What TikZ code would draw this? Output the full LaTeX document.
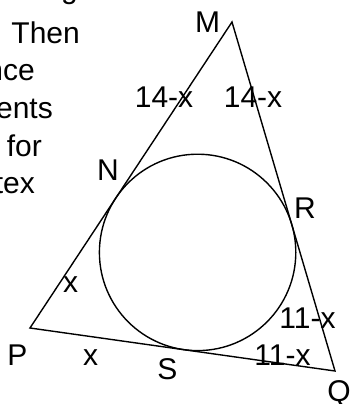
\documentclass[tikz,border=0pt]{standalone}
\usepackage{fontspec}
\setmainfont{Liberation Sans}
\begin{document}
\begin{tikzpicture}[x=1pt,y=-1pt,
  lbl/.style={font=\fontsize{30}{36}\selectfont, inner sep=0pt, anchor=base},
  txt/.style={font=\fontsize{30}{36}\selectfont, inner sep=0pt, anchor=base east},
  edge/.style={line width=1.4pt, line join=miter}]
\useasboundingbox (0,0) rectangle (352,404);
\begin{scope}
\clip (0,0) rectangle (352,404);
% cropped paragraph on the left
\node[txt] (l0) at (78,-1.5) {g};
\node[txt] (l1) at (80,44) {Then};
\node[txt] (l2) at (35,81) {nce};
\node[txt] (l3) at (53,118) {ents};
\node[txt] (l4) at (42,156) {for};
\node[txt] (l5) at (35,193) {tex};
% geometry
\coordinate (M) at (232,22);
\coordinate (P) at (30,328);
\coordinate (Q) at (335,371);
\coordinate (O) at (197.6,252.4);
\draw[edge] (M) -- (P) -- (Q) -- cycle;
\draw[edge] (O) circle (98.2pt);
% labels
\node[lbl] (lM) at (207.5,33) {M};
\node[lbl] (lN) at (108,180) {N};
\node[lbl] (lR) at (305,218) {R};
\node[lbl] (lP) at (17.5,365) {P};
\node[lbl] (lS) at (167.5,379) {S};
\node[lbl] (lQ) at (339,401) {Q};
\node[lbl] (a1) at (164,107) {14-x};
\node[lbl] (a2) at (253,107) {14-x};
\node[lbl] (b1) at (70.5,292) {x};
\node[lbl] (b2) at (90.5,365) {x};
\node[lbl] (c1) at (307.5,328) {11-x};
\node[lbl] (c2) at (282.5,365) {11-x};
\end{scope}
\end{tikzpicture}
\end{document}
